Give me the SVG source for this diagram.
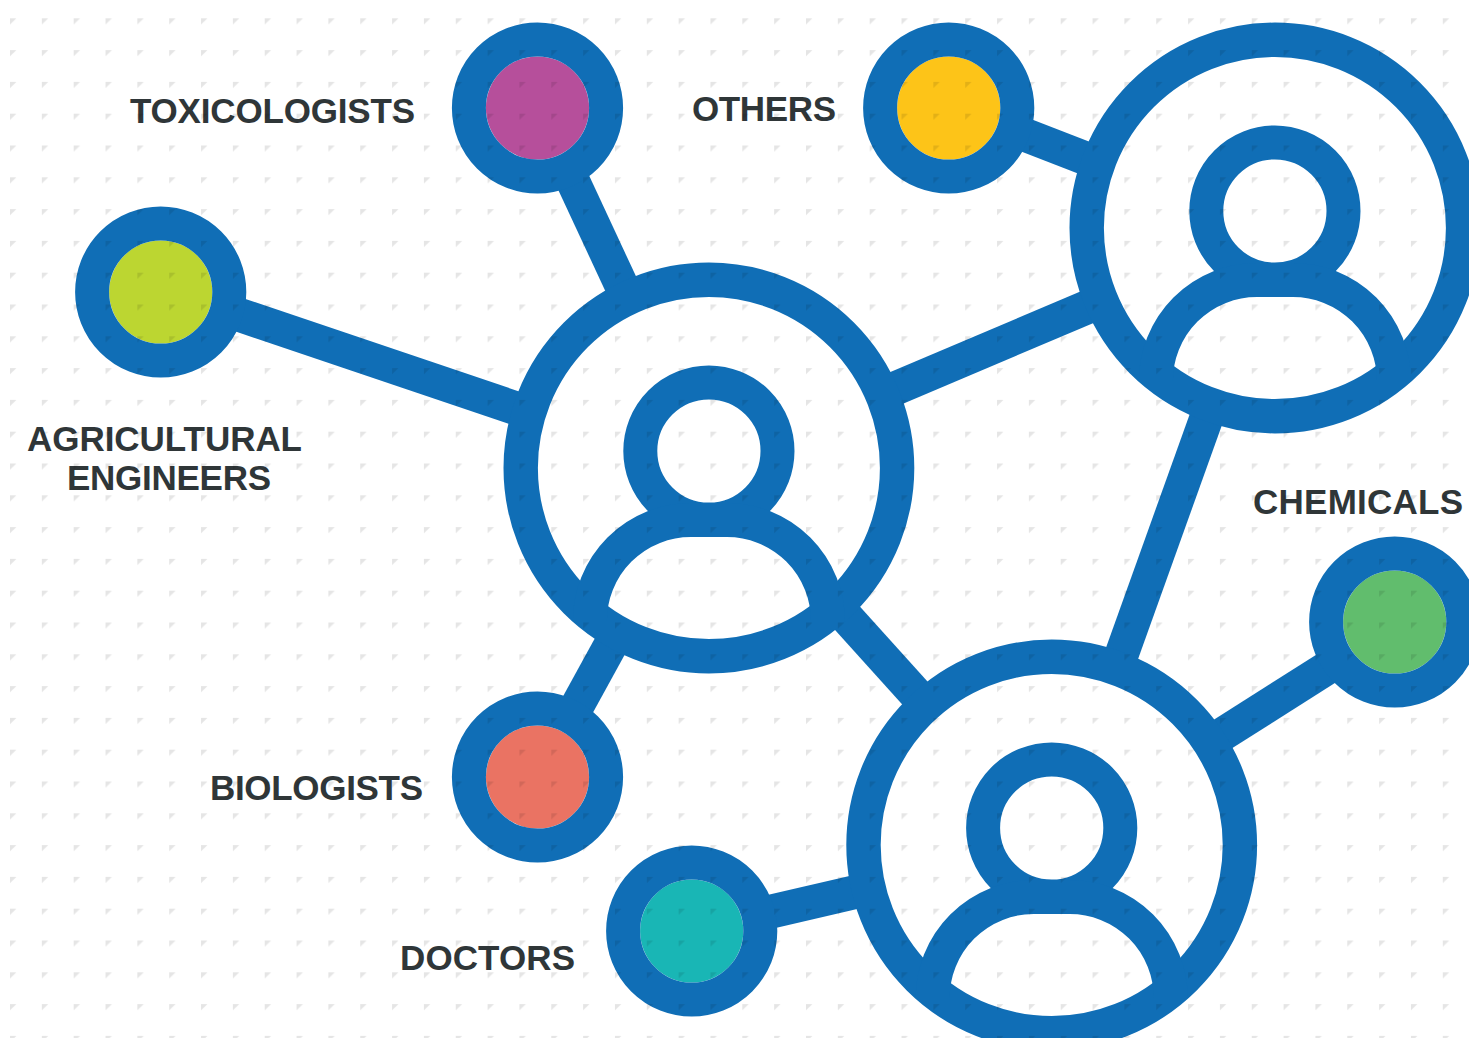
<svg xmlns="http://www.w3.org/2000/svg" width="1469" height="1038" viewBox="0 0 1469 1038">
<style>
.ln{stroke:#106eb6;stroke-width:34;fill:none}
.lbl{font-family:"Liberation Sans",Arial,sans-serif;font-weight:700;font-size:35px;fill:#2f3638}
</style>
<defs>
<pattern id="dots" patternUnits="userSpaceOnUse" x="10" y="18.3" width="31.84" height="31.8"><path d="M0 0H6.3L0 6.3Z" fill="#000" fill-opacity=".1"/></pattern>
<g id="person"><circle class="ln" r="188.2" style="stroke-width:34.4"/><circle class="ln" cy="-17" r="68.6"/><path class="ln" d="M-119 153A101 101 0 0 1-18 52H18A101 101 0 0 1 119 153"/></g>
<circle id="ring" class="ln" r="68.6"/>
</defs>
<rect width="1469" height="1038" fill="#fff"/>
<g id="connectors" class="ln">
<line x1="564.5" y1="163" x2="625" y2="293"/>
<line x1="225" y1="310" x2="524" y2="411"/>
<line x1="887" y1="392" x2="1097" y2="303"/>
<line x1="1015" y1="131" x2="1095" y2="162"/>
<line x1="615" y1="637" x2="570" y2="719"/>
<line x1="840" y1="610" x2="923" y2="702"/>
<line x1="1210" y1="408" x2="1117.5" y2="666"/>
<line x1="1215" y1="739" x2="1338" y2="661"/>
<line x1="761" y1="914" x2="864" y2="890"/>
</g>
<use id="node-center" href="#person" x="708.9" y="468"/>
<use id="node-top-right" href="#person" x="1274.9" y="228"/>
<use id="node-bottom" href="#person" x="1051.7" y="845"/>
<g id="node-toxicologists"><circle cx="537.5" cy="108" r="51.6" fill="#b64f9b"/><use href="#ring" x="537.5" y="108"/><text class="lbl" x="130" y="123" textLength="285">TOXICOLOGISTS</text></g>
<g id="node-agricultural"><circle cx="160.7" cy="292" r="51.6" fill="#bcd631"/><use href="#ring" x="160.7" y="292"/><text class="lbl" x="27" y="451.2" textLength="275">AGRICULTURAL</text><text class="lbl" x="67" y="490" textLength="204">ENGINEERS</text></g>
<g id="node-others"><circle cx="948.7" cy="108" r="51.6" fill="#fdc418"/><use href="#ring" x="948.7" y="108"/><text class="lbl" x="692" y="121" textLength="144">OTHERS</text></g>
<g id="node-chemicals"><circle cx="1394.7" cy="622" r="51.6" fill="#61bd6d"/><use href="#ring" x="1394.7" y="622"/><text class="lbl" x="1253" y="514" textLength="210">CHEMICALS</text></g>
<g id="node-biologists"><circle cx="537.5" cy="777" r="51.6" fill="#ea7363"/><use href="#ring" x="537.5" y="777"/><text class="lbl" x="210" y="800" textLength="213">BIOLOGISTS</text></g>
<g id="node-doctors"><circle cx="691.7" cy="931" r="51.6" fill="#19b6b5"/><use href="#ring" x="691.7" y="931"/><text class="lbl" x="400" y="970" textLength="175">DOCTORS</text></g>
<rect id="texture" width="1469" height="1038" fill="url(#dots)"/>
</svg>
